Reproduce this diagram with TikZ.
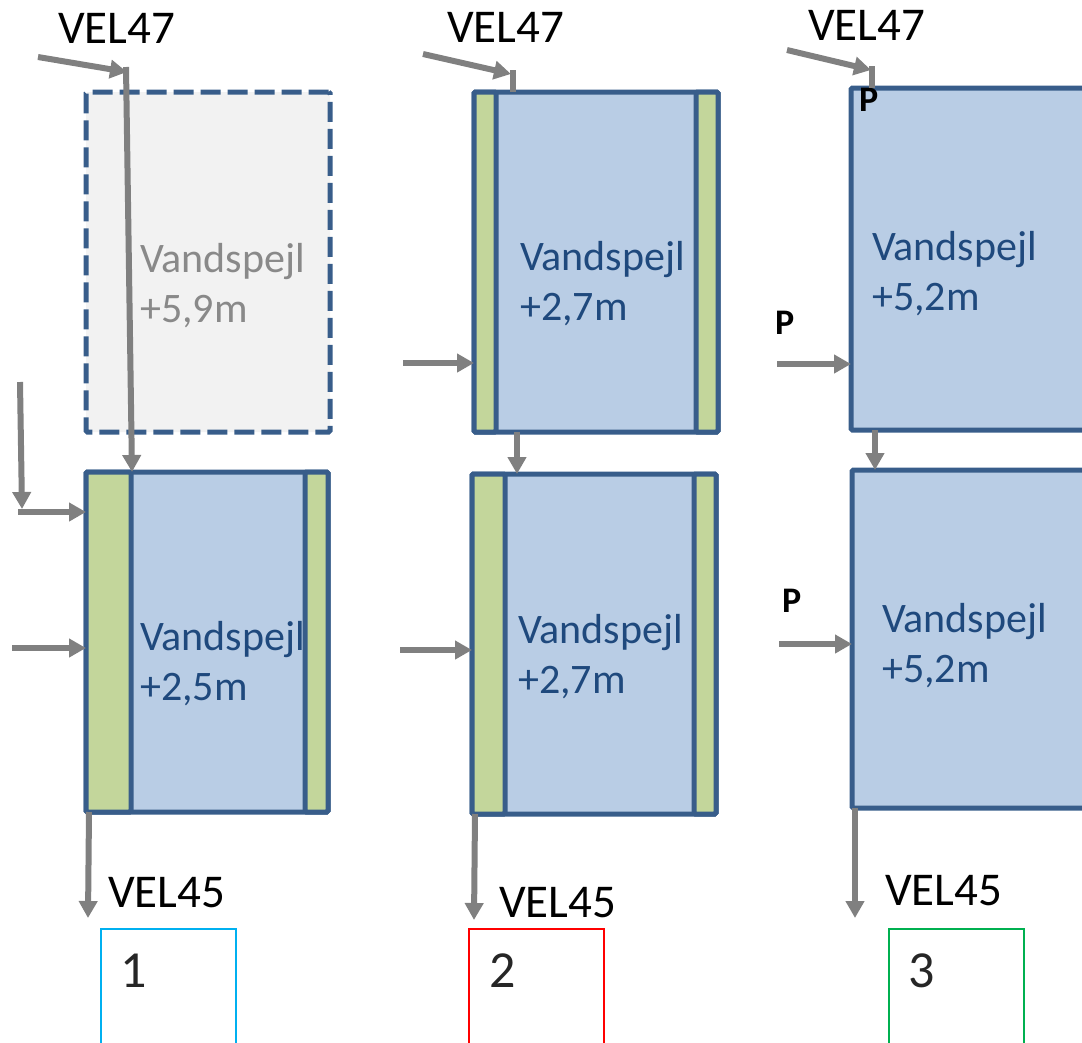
\documentclass[tikz,border=0pt]{standalone}
\usepackage{fontspec}
\setmainfont{Carlito}
\usetikzlibrary{arrows.meta,calc}
\definecolor{bord}{HTML}{385D8A}
\definecolor{wat}{HTML}{B9CDE5}
\definecolor{grn}{HTML}{C3D69B}
\definecolor{ghost}{HTML}{F2F2F2}
\definecolor{arrg}{HTML}{808080}
\definecolor{txtb}{HTML}{1F497D}
\definecolor{txtg}{HTML}{898989}
\definecolor{numc}{HTML}{262626}
\definecolor{cone}{HTML}{00B0F0}
\definecolor{ctwo}{HTML}{FF0000}
\definecolor{cthree}{HTML}{00B050}
\begin{document}
\begin{tikzpicture}[x=1pt,y=-1pt,
  tank/.style={draw=bord,fill=wat,line width=5pt,rounded corners=1.5pt,inner sep=0pt,outer sep=0pt,anchor=north west,rectangle},
  ghostbox/.style={tank,fill=ghost,dash pattern=on 20pt off 7pt},
  strip/.style={draw=bord,fill=grn,line width=5pt,rounded corners=1.5pt},
  arr/.style={draw=arrg,line width=6pt,-{Triangle[length=17pt,width=18pt]}},
  ln/.style={draw=arrg,line width=6pt},
  vel/.style={font=\fontsize{47}{54}\selectfont,anchor=base west,inner sep=0pt,text=black},
  level/.style={font=\fontsize{42}{50}\selectfont,anchor=base west,inner sep=0pt,align=left,text=txtb},
  plabel/.style={font=\fontsize{36}{40}\selectfont\bfseries,anchor=base west,inner sep=0pt,text=black},
  numbox/.style={draw=#1,line width=2pt,anchor=north west,inner sep=0pt,minimum width=135pt,minimum height=160pt,rectangle},
  num/.style={font=\fontsize{52}{60}\selectfont,anchor=base west,inner sep=0pt,text=numc}]
\useasboundingbox (0,0) rectangle (1082,1042);
\clip (0,0) rectangle (1082,1042);

% ---------- column 1 ----------
\node[ghostbox,minimum width=244pt,minimum height=340pt] (g1) at (86,92) {};
\node[tank,minimum width=242pt,minimum height=340pt] (b1) at (86,472) {};
\draw[strip] (b1.north west) rectangle ($(b1.south west)+(45,0)$);
\draw[strip] (b1.north east) rectangle ($(b1.south east)+(-23,0)$);
\node[level,text=txtg] (w1) at (140,322) {Vandspejl\\+5,9m};
\node[level] (w2) at (140,700) {Vandspejl\\+2,5m};
\node[vel] (v1) at (58,43) {VEL47};
\node[vel] (u1) at (108,907) {VEL45};
\node[numbox=cone] (n1) at (100,928) {};
\node[num] (k1) at (120,987) {1};

\coordinate (a1s) at (38,57);
\coordinate (a1k) at (127,72);
\draw[arr] (a1s) -- (a1k);
\coordinate (a1v) at (126,67);
\draw[arr] (a1v) -- ($(b1.north west)+(46,0)$);
\coordinate (a1l) at (20,382);
\coordinate (a1c) at (22,509);
\draw[arr] (a1l) -- (a1c);
\coordinate (a1h) at (18,512);
\draw[arr] (a1h) -- (a1h -| b1.west);
\coordinate (a1m) at (12,648);
\draw[arr] (a1m) -- (a1m -| b1.west);
\coordinate (o1) at (88,918);
\draw[arr] ($(b1.south west)+(3,0)$) -- (o1);

% ---------- column 2 ----------
\node[tank,minimum width=244pt,minimum height=340pt] (t2) at (474,92) {};
\draw[strip] (t2.north west) rectangle ($(t2.south west)+(22,0)$);
\draw[strip] (t2.north east) rectangle ($(t2.south east)+(-22,0)$);
\node[tank,minimum width=244pt,minimum height=340pt] (b2) at (472,474) {};
\draw[strip] (b2.north west) rectangle ($(b2.south west)+(33,0)$);
\draw[strip] (b2.north east) rectangle ($(b2.south east)+(-22,0)$);
\node[level] (w3) at (520,320) {Vandspejl\\+2,7m};
\node[level] (w4) at (518,693) {Vandspejl\\+2,7m};
\node[vel] (v2) at (447,42) {VEL47};
\node[vel] (u2) at (499,917) {VEL45};
\node[numbox=ctwo] (n2) at (468,928) {};
\node[num] (k2) at (489,987) {2};

\coordinate (a2s) at (423,54);
\coordinate (a2k) at (511,74);
\draw[arr] (a2s) -- (a2k);
\coordinate (a2v) at (513,70);
\draw[ln] (a2v) -- (a2v |- t2.north);
\coordinate (a2l) at (403,363);
\draw[arr] (a2l) -- (a2l -| t2.west);
\draw[arr] ($(t2.south west)+(43,0)$) -- ($(b2.north west)+(45,0)$);
\coordinate (a2m) at (400,650);
\draw[arr] (a2m) -- (a2m -| b2.west);
\coordinate (o2) at (474,920);
\draw[arr] ($(b2.south west)+(3,0)$) -- (o2);

% ---------- column 3 ----------
\node[tank,minimum width=300pt,minimum height=342pt] (t3) at (851,88) {};
\node[tank,minimum width=300pt,minimum height=338pt] (b3) at (852,470) {};
\node[level] (w5) at (872,310) {Vandspejl\\+5,2m};
\node[level] (w6) at (882,682) {Vandspejl\\+5,2m};
\node[vel] (v3) at (808,40) {VEL47};
\node[vel] (u3) at (885,905) {VEL45};
\node[numbox=cthree] (n3) at (888,928) {};
\node[num] (k3) at (908,987) {3};
\node[plabel] (p1) at (859,111) {P};
\node[plabel] (p2) at (775,334) {P};
\node[plabel] (p3) at (782,612) {P};

\coordinate (a3s) at (787,50);
\coordinate (a3k) at (871,70);
\draw[arr] (a3s) -- (a3k);
\coordinate (a3v) at (872,66);
\draw[ln] (a3v) -- (a3v |- t3.north);
\coordinate (a3l) at (777,364);
\draw[arr] (a3l) -- (a3l -| t3.west);
\draw[arr] ($(t3.south west)+(24,0)$) -- ($(b3.north west)+(23,0)$);
\coordinate (a3m) at (779,644);
\draw[arr] (a3m) -- (a3m -| b3.west);
\coordinate (o3) at (855,918);
\draw[arr] ($(b3.south west)+(3,0)$) -- (o3);
\end{tikzpicture}
\end{document}
